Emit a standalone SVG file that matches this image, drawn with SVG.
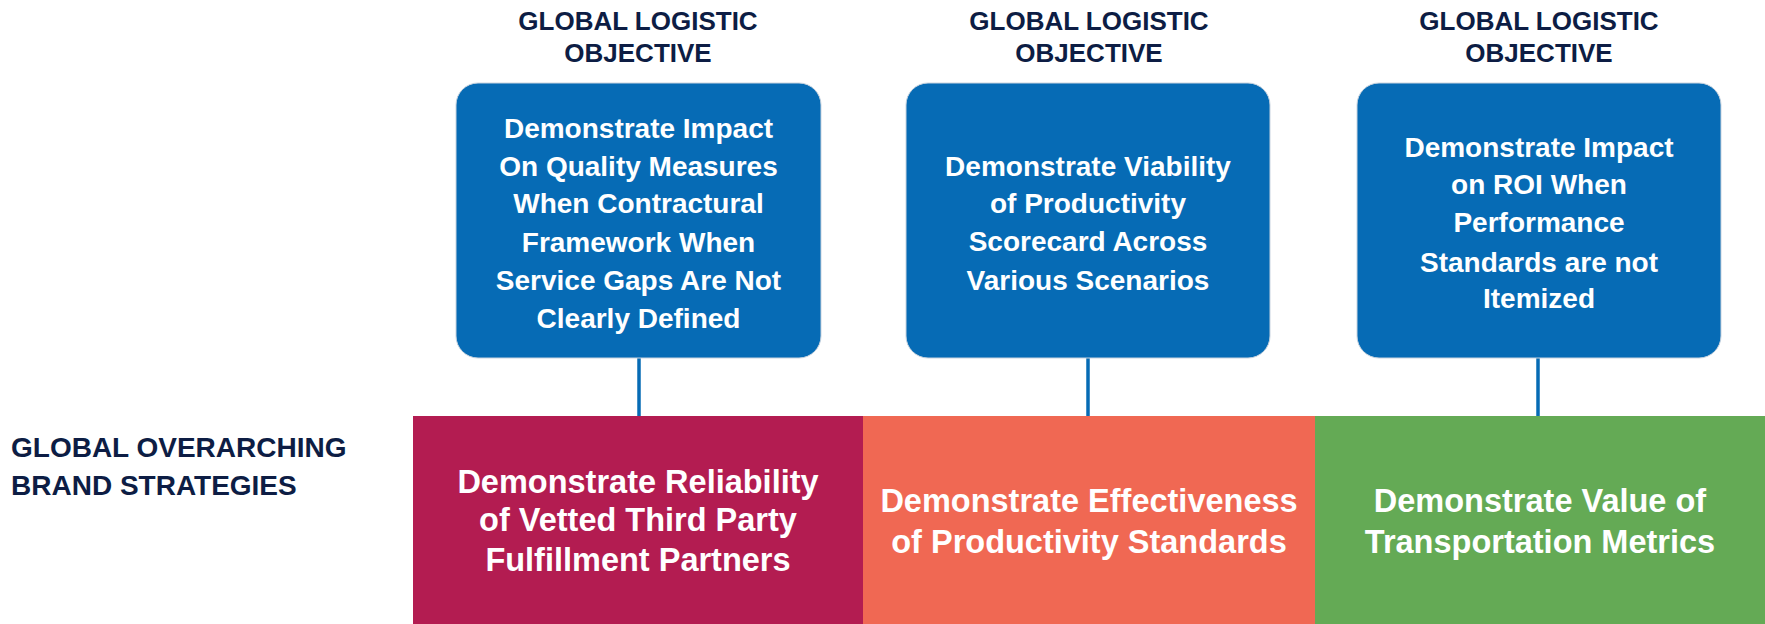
<svg xmlns="http://www.w3.org/2000/svg" width="1765" height="624" viewBox="0 0 1765 624">
<style>
.hdr{font-family:"Liberation Sans",Arial,sans-serif;font-weight:bold;font-size:26px;fill:#0d1d44;text-anchor:middle}
.lbl{font-family:"Liberation Sans",Arial,sans-serif;font-weight:bold;font-size:28px;fill:#0d1d44}
.obj{fill:#066bb5;stroke:#c9d4df;stroke-width:1}
.objt{font-family:"Liberation Sans",Arial,sans-serif;font-weight:bold;font-size:28px;fill:#ffffff;text-anchor:middle}
.bandt{font-family:"Liberation Sans",Arial,sans-serif;font-weight:bold;font-size:32.5px;fill:#ffffff;text-anchor:middle}
.conn{stroke:#066bb5;stroke-width:3.5;fill:none}
</style>
<rect width="1765" height="624" fill="#ffffff"/>
<g id="headers">
<text class="hdr" x="638" y="30">GLOBAL LOGISTIC</text>
<text class="hdr" x="638" y="62">OBJECTIVE</text>
<text class="hdr" x="1089" y="30">GLOBAL LOGISTIC</text>
<text class="hdr" x="1089" y="62">OBJECTIVE</text>
<text class="hdr" x="1539" y="30">GLOBAL LOGISTIC</text>
<text class="hdr" x="1539" y="62">OBJECTIVE</text>
</g>
<g id="label-strategies">
<text class="lbl" x="11" y="457">GLOBAL OVERARCHING</text>
<text class="lbl" x="11" y="495">BRAND STRATEGIES</text>
</g>
<g id="connectors">
<line class="conn" x1="639" y1="358" x2="639" y2="417"/>
<line class="conn" x1="1088" y1="358" x2="1088" y2="417"/>
<line class="conn" x1="1538" y1="358" x2="1538" y2="417"/>
</g>
<g id="objective-1">
<rect class="obj" x="456" y="83" width="365" height="275" rx="22"/>
<text class="objt" x="638.5" y="137.7">Demonstrate Impact</text>
<text class="objt" x="638.5" y="175.5">On Quality Measures</text>
<text class="objt" x="638.5" y="213.3">When Contractural</text>
<text class="objt" x="638.5" y="252">Framework When</text>
<text class="objt" x="638.5" y="290">Service Gaps Are Not</text>
<text class="objt" x="638.5" y="328.3">Clearly Defined</text>
</g>
<g id="objective-2">
<rect class="obj" x="906" y="83" width="364" height="275" rx="22"/>
<text class="objt" x="1088" y="176">Demonstrate Viability</text>
<text class="objt" x="1088" y="213.3">of Productivity</text>
<text class="objt" x="1088" y="250.7">Scorecard Across</text>
<text class="objt" x="1088" y="290">Various Scenarios</text>
</g>
<g id="objective-3">
<rect class="obj" x="1357" y="83" width="364" height="275" rx="22"/>
<text class="objt" x="1539" y="156.7">Demonstrate Impact</text>
<text class="objt" x="1539" y="194.3">on ROI When</text>
<text class="objt" x="1539" y="231.7">Performance</text>
<text class="objt" x="1539" y="271.7">Standards are not</text>
<text class="objt" x="1539" y="308.3">Itemized</text>
</g>
<g id="strategy-1">
<rect x="413" y="416" width="450" height="208" fill="#b31c51"/>
<text class="bandt" x="638" y="492.5">Demonstrate Reliability</text>
<text class="bandt" x="638" y="531">of Vetted Third Party</text>
<text class="bandt" x="638" y="570.5">Fulfillment Partners</text>
</g>
<g id="strategy-2">
<rect x="863" y="416" width="452" height="208" fill="#f06853"/>
<text class="bandt" x="1089" y="511.5">Demonstrate Effectiveness</text>
<text class="bandt" x="1089" y="553">of Productivity Standards</text>
</g>
<g id="strategy-3">
<rect x="1315" y="416" width="450" height="208" fill="#64aa55"/>
<text class="bandt" x="1540" y="511.5">Demonstrate Value of</text>
<text class="bandt" x="1540" y="553">Transportation Metrics</text>
</g>
</svg>
